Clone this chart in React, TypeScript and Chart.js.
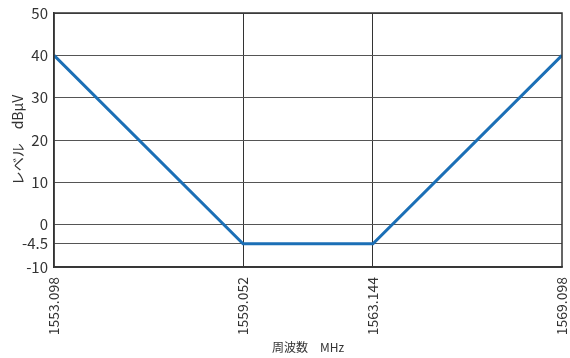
import React, { useEffect, useRef } from "react";
import { Chart, registerables } from "chart.js";

Chart.register(...registerables);

const freqs = [1553.098, 1559.052, 1563.144, 1569.098];
const levels = [40, -4.5, -4.5, 40];
const xTicks = [1553.098, 1559.052, 1563.144, 1569.098];
const yTicks = [-10, -4.5, 0, 10, 20, 30, 40, 50];
const xTitle = "周波数　MHz";
const yTitle = "レベル　dBμV";

const FONT = "'Noto Sans CJK JP', 'Noto Sans', sans-serif";

export default function App() {
  const ref = useRef<HTMLCanvasElement | null>(null);
  useEffect(() => {
    document.body.style.margin = "0";
    const ctx = ref.current!.getContext("2d")!;
    const chart = new Chart(ctx, {
      type: "line",
      data: {
        datasets: [
          {
            data: freqs.map((f, i) => ({ x: f, y: levels[i] })),
            borderColor: "#1b6fb6",
            borderWidth: 3,
            pointRadius: 0,
            tension: 0,
            fill: false,
          },
        ],
      },
      options: {
        animation: false,
        responsive: false,
        maintainAspectRatio: false,
        layout: { padding: { top: 13, right: 8, left: 0, bottom: 0 } },
        plugins: { legend: { display: false }, tooltip: { enabled: false } },
        scales: {
          x: {
            type: "linear",
            min: 1553.098,
            max: 1569.098,
            afterBuildTicks: (s: any) => {
              s.ticks = xTicks.map((v) => ({ value: v }));
            },
            afterFit: (s: any) => {
              s.height = 91;
              s.paddingLeft = 0;
              s.paddingRight = 0;
            },
            grid: {
              drawTicks: false,
              color: (c: any) => (c.tick && (c.tick.value === 1553.098 || c.tick.value === 1569.098) ? "rgba(0,0,0,0)" : "#333"),
              lineWidth: 1,
            },
            border: { color: "#444", width: 1.5 },
            ticks: {
              minRotation: 90,
              maxRotation: 90,
              autoSkip: false,
              padding: 10,
              color: "#333",
              font: { family: FONT, size: 14 },
              callback: (v: any) => Number(v).toFixed(3),
            },
            title: {
              display: true,
              text: xTitle,
              color: "#333",
              font: { family: FONT, size: 12 },
              padding: { top: 0, bottom: 3 },
            },
          },
          y: {
            type: "linear",
            min: -10,
            max: 50,
            afterBuildTicks: (s: any) => {
              s.ticks = yTicks.map((v) => ({ value: v }));
            },
            afterFit: (s: any) => {
              s.width = 54;
              s.paddingTop = 0;
              s.paddingBottom = 0;
            },
            grid: {
              drawTicks: false,
              color: "#555",
              lineWidth: 1,
            },
            border: { color: "#333", width: 1.5 },
            ticks: {
              padding: 6,
              autoSkip: false,
              color: "#333",
              font: { family: FONT, size: 15 },
              callback: (v: any) => String(v),
            },
            title: {
              display: true,
              text: yTitle,
              color: "#333",
              font: { family: FONT, size: 14 },
              padding: { top: 9, bottom: 0 },
            },
          },
        },
      },
      plugins: [
        {
          id: "frame",
          afterDraw(c: any) {
            const a = c.chartArea;
            const g = c.ctx;
            g.save();
            g.strokeStyle = "#333";
            g.lineWidth = 1.5;
            g.strokeRect(a.left, a.top, a.right - a.left, a.bottom - a.top);
            g.restore();
          },
        },
      ],
    } as any);
    return () => chart.destroy();
  }, []);
  return (
    <div style={{ width: 570, height: 358 }}>
      <canvas ref={ref} width={570} height={358} style={{ display: "block" }} />
    </div>
  );
}
